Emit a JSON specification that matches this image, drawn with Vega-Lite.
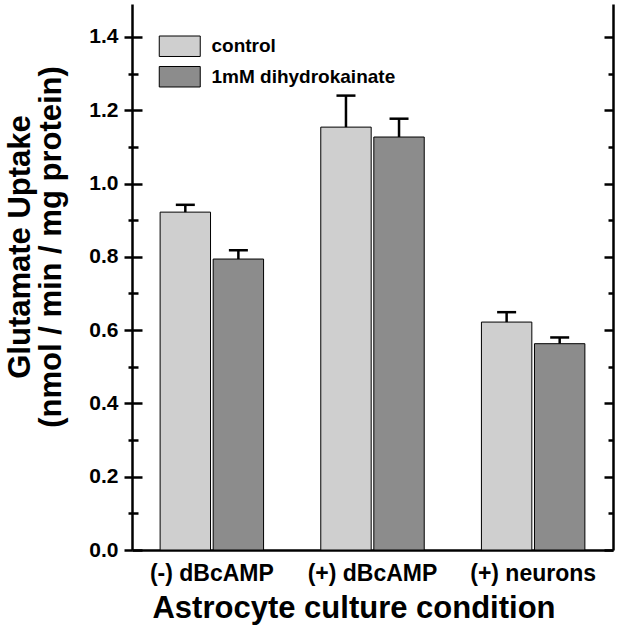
{
  "$schema": "https://vega.github.io/schema/vega-lite/v6.json",
  "autosize": {"type": "none"},
  "padding": {"left": 132, "top": 4, "right": 8, "bottom": 86},
  "width": 481,
  "height": 546,
  "background": "white",
  "config": {
    "view": {"stroke": null},
    "font": "Liberation Sans"
  },
  "data": {
    "values": [
      {"condition": "(-) dBcAMP", "treatment": "control", "mean": 0.922, "upper": 0.942},
      {"condition": "(-) dBcAMP", "treatment": "1mM dihydrokainate", "mean": 0.794, "upper": 0.818},
      {"condition": "(+) dBcAMP", "treatment": "control", "mean": 1.154, "upper": 1.240},
      {"condition": "(+) dBcAMP", "treatment": "1mM dihydrokainate", "mean": 1.127, "upper": 1.177},
      {"condition": "(+) neurons", "treatment": "control", "mean": 0.622, "upper": 0.649},
      {"condition": "(+) neurons", "treatment": "1mM dihydrokainate", "mean": 0.563, "upper": 0.580}
    ]
  },
  "encoding": {
    "x": {
      "field": "condition",
      "type": "nominal",
      "sort": ["(-) dBcAMP", "(+) dBcAMP", "(+) neurons"],
      "scale": {"paddingInner": 0.356, "paddingOuter": 0.175},
      "axis": {
        "title": "Astrocyte culture condition",
        "titleFont": "Liberation Sans",
        "titleFontSize": 31,
        "titleFontWeight": "bold",
        "titleColor": "black",
        "titleX": 221.5,
        "titleY": 67,
        "titleAlign": "center",
        "titleBaseline": "alphabetic",
        "labelAngle": 0,
        "labelFont": "Liberation Sans",
        "labelFontSize": 23,
        "labelFontWeight": "bold",
        "labelColor": "black",
        "labelPadding": 12,
        "ticks": false,
        "domainColor": "black",
        "domainWidth": 2.5,
        "grid": false
      }
    },
    "xOffset": {
      "field": "treatment",
      "type": "nominal",
      "sort": ["control", "1mM dihydrokainate"],
      "scale": {"paddingInner": 0.05, "paddingOuter": 0}
    }
  },
  "layer": [
    {
      "mark": {"type": "bar", "stroke": "black", "strokeWidth": 1},
      "encoding": {
        "y": {
          "field": "mean",
          "type": "quantitative",
          "scale": {"domain": [0, 1.49], "nice": false, "zero": true},
          "axis": {
            "orient": "left",
            "values": [0, 0.1, 0.2, 0.3, 0.4, 0.5, 0.6, 0.7, 0.8, 0.9, 1.0, 1.1, 1.2, 1.3, 1.4],
            "labelExpr": "round(datum.value*10)%2==0 ? format(datum.value,'.1f') : ''",
            "labelOverlap": false,
            "labelFont": "Liberation Sans",
            "labelFontSize": 21,
            "labelFontWeight": "bold",
            "labelColor": "black",
            "labelPadding": 6,
            "tickSize": {"expr": "round(datum.value*10)%2==0 ? 8 : 4"},
            "tickWidth": 2.5,
            "tickColor": "black",
            "domainColor": "black",
            "domainWidth": 2.5,
            "grid": false,
            "title": ["Glutamate Uptake", "(nmol / min / mg protein)"],
            "titleFont": "Liberation Sans",
            "titleFontSize": 31,
            "titleFontWeight": "bold",
            "titleColor": "black",
            "titleX": -127,
            "titleY": 242.5,
            "titleAngle": -90,
            "titleAlign": "center",
            "titleBaseline": "top",
            "titleLineHeight": 31
          }
        },
        "fill": {
          "field": "treatment",
          "type": "nominal",
          "scale": {"domain": ["control", "1mM dihydrokainate"], "range": ["#cfcfcf", "#8c8c8c"]},
          "legend": {
            "orient": "none",
            "legendX": 36.75,
            "legendY": 31.25,
            "title": null,
            "padding": 0,
            "symbolType": "M-2,-1H2V1H-2Z",
            "symbolSize": 420,
            "symbolStrokeColor": "black",
            "symbolStrokeWidth": 1,
            "labelFont": "Liberation Sans",
            "labelFontSize": 19,
            "labelFontWeight": "bold",
            "labelColor": "black",
            "labelOffset": 20.75,
            "labelLimit": 400,
            "rowPadding": 4.5
          }
        }
      }
    },
    {
      "mark": {"type": "rule", "color": "black", "strokeWidth": 2.5},
      "encoding": {
        "y": {
          "field": "mean",
          "type": "quantitative",
          "axis": {
            "orient": "right",
            "title": null,
            "labels": false,
            "values": [0, 0.1, 0.2, 0.3, 0.4, 0.5, 0.6, 0.7, 0.8, 0.9, 1.0, 1.1, 1.2, 1.3, 1.4],
            "tickSize": {"expr": "round(datum.value*10)%2==0 ? -9 : -5"},
            "tickWidth": 2.5,
            "tickColor": "black",
            "domainColor": "black",
            "domainWidth": 2.5,
            "grid": false
          }
        },
        "y2": {"field": "upper"}
      }
    },
    {
      "mark": {"type": "tick", "color": "black", "size": 19, "thickness": 2.5, "opacity": 1},
      "encoding": {
        "y": {
          "field": "upper",
          "type": "quantitative",
          "axis": {
            "orient": "left",
            "title": null,
            "labels": false,
            "domain": false,
            "grid": false,
            "values": [0, 0.1, 0.2, 0.3, 0.4, 0.5, 0.6, 0.7, 0.8, 0.9, 1.0, 1.1, 1.2, 1.3, 1.4],
            "tickSize": {"expr": "round(datum.value*10)%2==0 ? -10 : -6"},
            "tickWidth": 2.5,
            "tickColor": "black"
          }
        }
      }
    }
  ],
  "resolve": {"axis": {"y": "independent"}}
}
